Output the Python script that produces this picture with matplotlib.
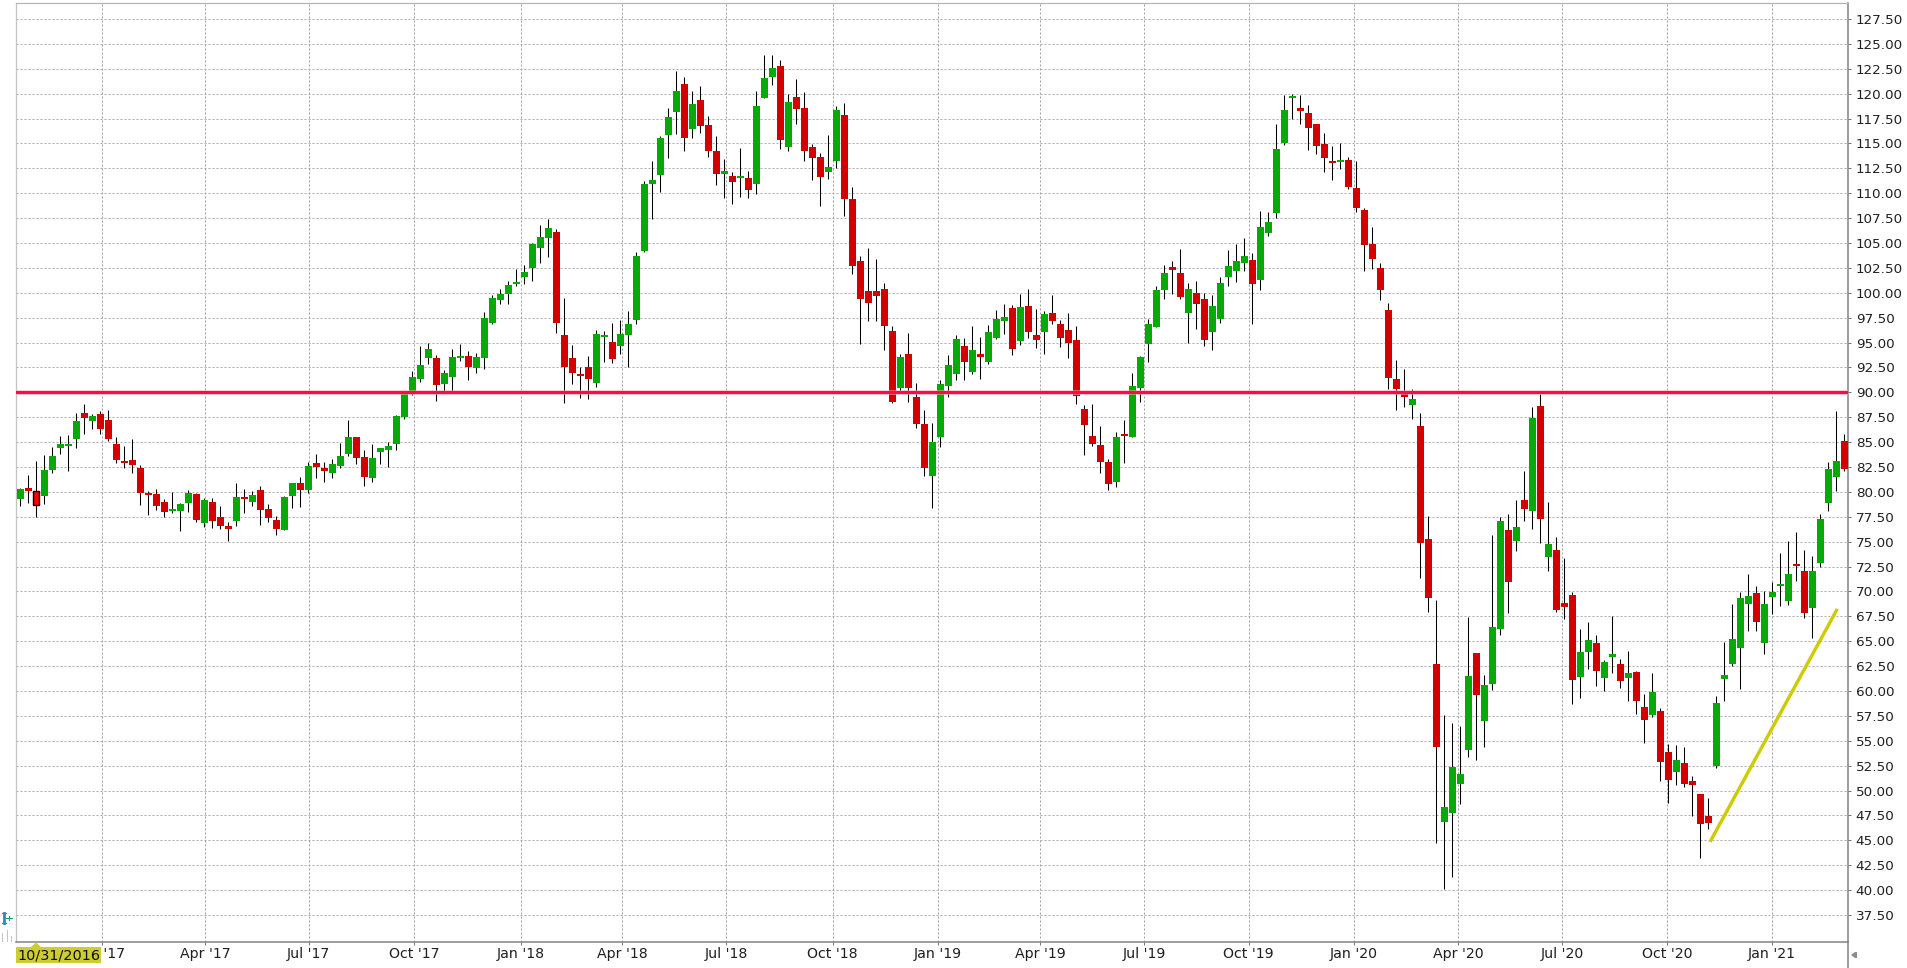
#!/usr/bin/env python3
import matplotlib

matplotlib.use("Agg")
import matplotlib.pyplot as plt
from matplotlib.patches import Polygon, Rectangle

opens = [
    79.33, 80.43, 80.10, 79.63, 82.24, 84.45, 84.65, 85.35, 87.96, 87.16,
    87.86, 87.26, 84.85, 83.14, 83.24, 82.44, 79.93, 79.83, 79.03, 78.13,
    78.13, 78.93, 79.83, 76.92, 79.03, 77.53, 76.62, 77.12, 79.53, 79.03,
    80.23, 78.33, 77.22, 76.22, 79.63, 80.94, 80.23, 82.94, 82.44, 81.94,
    82.64, 83.85, 85.55, 83.54, 81.44, 84.05, 84.25, 84.85, 87.56, 90.00,
    91.37, 93.43, 93.48, 90.87, 91.57, 93.48, 93.68, 92.47, 93.47, 96.99,
    99.30, 99.90, 100.90, 101.61, 102.51, 104.52, 105.52, 106.13, 95.78, 93.47,
    91.86, 92.57, 90.96, 95.58, 95.08, 94.68, 95.78, 97.29, 104.22, 110.95,
    111.85, 115.87, 118.18, 120.99, 116.47, 119.38, 116.87, 114.26, 111.95, 111.75,
    111.55, 111.55, 110.95, 119.58, 121.69, 122.80, 114.66, 119.68, 118.58, 114.66,
    113.66, 112.15, 113.26, 117.88, 109.44, 103.21, 100.20, 100.20, 100.43, 96.12,
    90.40, 93.81, 89.50, 86.79, 81.57, 85.48, 90.60, 91.81, 94.62, 92.01,
    93.81, 93.01, 95.42, 97.12, 98.43, 95.12, 98.63, 95.72, 96.02, 97.93,
    96.82, 96.22, 95.22, 88.29, 85.59, 84.68, 82.98, 80.97, 85.79, 85.48,
    90.40, 94.82, 96.52, 100.33, 102.64, 101.94, 97.93, 100.03, 99.33, 96.02,
    97.32, 101.54, 102.14, 103.04, 103.34, 101.24, 105.96, 107.97, 115.00, 119.52,
    118.61, 118.11, 117.00, 114.90, 113.19, 113.09, 113.39, 110.48, 108.27, 104.95,
    102.54, 98.23, 91.30, 89.89, 88.68, 86.59, 75.25, 62.71, 46.88, 47.77,
    50.68, 54.10, 63.81, 57.00, 60.70, 66.23, 76.19, 75.08, 79.19, 78.09,
    88.63, 73.46, 74.15, 68.86, 69.65, 61.43, 63.92, 64.82, 61.32, 63.43,
    62.71, 61.33, 61.93, 58.42, 57.61, 58.01, 53.90, 51.89, 52.79, 50.98,
    49.68, 47.47, 52.49, 61.23, 62.74, 64.34, 68.76, 69.87, 64.84, 69.46,
    70.57, 69.06, 72.78, 72.08, 68.36, 72.88, 78.91, 81.52, 85.13,
]
closes = [
    80.33, 80.13, 78.66, 82.24, 83.65, 84.85, 84.85, 87.16, 87.46, 87.66,
    86.35, 85.35, 83.24, 82.94, 82.74, 79.93, 79.73, 78.63, 78.03, 78.33,
    78.83, 79.93, 77.22, 79.23, 77.12, 76.62, 76.32, 79.53, 79.33, 79.73,
    78.23, 77.42, 76.32, 79.53, 80.94, 80.23, 82.64, 82.54, 82.14, 82.84,
    83.65, 85.55, 83.44, 81.54, 83.44, 84.45, 84.65, 87.66, 89.87, 91.57,
    92.78, 94.40, 90.77, 91.97, 93.58, 93.68, 92.57, 93.58, 97.49, 99.50,
    99.90, 100.80, 101.10, 102.11, 104.92, 105.62, 106.53, 96.99, 92.57, 91.97,
    91.66, 91.36, 95.88, 95.78, 93.37, 95.88, 96.89, 103.72, 110.95, 111.35,
    115.57, 117.68, 120.29, 115.57, 118.98, 116.77, 114.26, 111.95, 112.25, 111.15,
    111.75, 110.34, 118.78, 121.59, 122.60, 115.37, 119.18, 118.48, 114.26, 113.56,
    111.65, 112.65, 118.38, 109.44, 102.71, 99.40, 99.00, 99.70, 96.62, 89.00,
    93.51, 90.40, 86.79, 82.37, 84.98, 90.80, 92.71, 95.32, 93.01, 94.21,
    93.51, 96.02, 97.32, 97.53, 94.31, 98.53, 96.02, 95.22, 97.83, 97.12,
    95.42, 94.92, 89.60, 86.69, 84.78, 82.98, 80.77, 85.48, 85.59, 90.60,
    93.51, 96.82, 100.33, 101.94, 102.34, 99.53, 100.43, 98.83, 95.22, 98.63,
    100.94, 102.74, 103.24, 103.65, 100.84, 106.56, 107.16, 114.40, 118.41, 119.72,
    118.31, 116.60, 114.70, 113.59, 112.99, 113.39, 110.58, 108.47, 104.85, 103.35,
    100.33, 91.40, 90.30, 89.49, 89.29, 74.87, 69.34, 54.38, 48.36, 52.37,
    51.68, 61.53, 59.60, 60.60, 66.44, 77.09, 70.97, 76.46, 78.26, 87.42,
    77.26, 74.77, 68.13, 68.44, 61.12, 63.92, 65.13, 62.02, 62.91, 63.71,
    61.01, 61.83, 59.02, 57.11, 59.92, 52.89, 51.08, 53.09, 50.68, 50.58,
    46.67, 46.77, 58.82, 61.63, 65.25, 69.36, 69.56, 66.95, 68.76, 69.97,
    70.77, 71.77, 72.58, 67.86, 72.08, 77.30, 82.32, 83.12, 82.32,
]
highs = [
    80.43, 81.74, 83.14, 83.75, 84.55, 85.65, 85.75, 87.96, 88.86, 87.86,
    88.16, 88.26, 85.55, 84.65, 85.35, 82.74, 80.13, 80.33, 79.33, 80.03,
    78.93, 80.23, 79.93, 79.43, 79.43, 78.63, 77.02, 80.94, 80.33, 80.13,
    80.64, 78.83, 77.63, 79.63, 80.94, 81.54, 83.04, 83.85, 83.04, 83.34,
    84.95, 87.26, 85.55, 84.25, 84.85, 84.45, 85.05, 87.76, 89.97, 92.17,
    94.68, 95.00, 93.78, 92.27, 94.38, 94.88, 94.18, 93.98, 98.09, 99.80,
    100.40, 101.20, 102.41, 102.81, 105.02, 106.83, 107.43, 106.43, 99.50, 94.78,
    92.57, 93.67, 96.28, 96.18, 96.99, 97.29, 98.19, 104.12, 111.25, 113.26,
    115.77, 118.58, 122.30, 121.69, 120.29, 120.79, 117.78, 115.77, 113.46, 112.15,
    114.56, 112.25, 120.29, 123.90, 123.90, 123.40, 119.99, 121.49, 120.19, 114.96,
    114.06, 115.87, 118.78, 119.08, 110.65, 103.72, 104.52, 103.41, 100.94, 96.62,
    93.81, 95.92, 90.90, 88.19, 86.89, 91.20, 93.71, 95.72, 95.42, 96.62,
    95.52, 96.72, 98.23, 98.83, 98.73, 99.83, 100.43, 98.33, 98.13, 99.73,
    97.22, 97.93, 96.62, 88.70, 88.80, 86.59, 83.28, 85.99, 87.19, 91.91,
    93.61, 97.32, 100.64, 102.84, 103.24, 104.45, 100.94, 101.14, 100.03, 99.73,
    101.54, 104.25, 104.95, 105.55, 103.95, 108.17, 108.07, 117.00, 119.82, 119.92,
    119.82, 118.91, 117.00, 116.10, 114.70, 115.00, 113.69, 113.19, 108.47, 106.66,
    102.95, 98.93, 93.30, 92.30, 90.30, 87.90, 77.57, 69.14, 57.56, 56.80,
    56.48, 67.44, 63.81, 61.60, 75.67, 77.43, 77.78, 79.19, 82.10, 88.53,
    89.81, 78.99, 75.46, 73.35, 69.93, 66.23, 66.92, 65.64, 63.12, 67.58,
    63.22, 64.02, 62.00, 59.72, 61.83, 58.32, 54.70, 54.60, 54.40, 51.49,
    49.68, 49.28, 59.52, 64.94, 68.76, 69.97, 71.77, 70.57, 70.07, 70.97,
    73.88, 75.02, 75.99, 74.18, 73.58, 77.80, 83.02, 88.14, 85.83,
]
lows = [
    78.63, 78.93, 77.50, 78.83, 81.94, 83.85, 82.14, 84.45, 85.85, 86.35,
    85.85, 85.15, 82.94, 82.44, 81.94, 78.73, 77.73, 78.23, 77.53, 77.93,
    76.12, 78.03, 77.02, 76.52, 76.42, 76.32, 75.02, 76.62, 77.93, 78.63,
    76.72, 77.02, 75.72, 76.22, 78.43, 78.53, 79.93, 81.44, 81.04, 81.44,
    82.44, 83.65, 82.84, 80.64, 81.04, 82.84, 82.54, 84.25, 87.36, 89.76,
    91.07, 92.80, 89.16, 90.17, 90.17, 93.18, 91.27, 91.97, 92.37, 96.90,
    98.90, 98.90, 100.70, 100.90, 101.20, 103.01, 103.62, 95.98, 88.95, 90.86,
    89.45, 89.35, 90.56, 93.07, 92.97, 93.87, 92.57, 96.89, 104.12, 107.43,
    110.14, 113.56, 115.97, 114.26, 115.57, 116.07, 113.66, 110.85, 109.54, 108.94,
    109.64, 109.54, 109.94, 119.58, 120.89, 114.46, 114.26, 116.97, 113.26, 111.35,
    108.74, 111.45, 112.55, 107.73, 101.91, 94.88, 97.19, 97.19, 94.21, 88.90,
    89.90, 89.00, 86.39, 81.57, 78.36, 84.48, 89.50, 91.20, 91.20, 91.81,
    91.30, 92.81, 95.32, 95.82, 93.71, 94.72, 95.42, 94.41, 93.81, 96.82,
    94.52, 93.41, 88.80, 83.68, 84.58, 81.87, 80.17, 80.47, 82.88, 85.48,
    89.00, 93.01, 96.52, 99.33, 99.83, 99.33, 94.92, 96.32, 94.62, 94.21,
    96.92, 100.64, 101.04, 102.24, 96.82, 100.33, 105.66, 107.47, 114.80, 117.50,
    117.00, 114.30, 113.90, 112.09, 111.38, 112.39, 110.38, 108.07, 102.14, 102.44,
    99.23, 90.30, 88.18, 88.48, 87.28, 71.35, 67.93, 44.77, 40.07, 41.34,
    48.67, 53.37, 53.10, 54.38, 60.08, 65.64, 67.82, 74.08, 77.09, 76.26,
    74.87, 72.04, 67.93, 67.23, 58.70, 59.32, 62.22, 60.53, 60.00, 61.81,
    60.29, 59.01, 57.71, 54.80, 57.41, 50.98, 48.77, 50.58, 50.38, 47.47,
    43.25, 46.16, 52.29, 59.02, 62.53, 60.22, 66.05, 66.05, 63.74, 67.76,
    68.56, 68.66, 71.07, 67.36, 65.35, 72.48, 78.10, 80.11, 82.12,
]

# x is the bar number, the quarter ticks fall between bars
date_ticks = [10.24, 23.11, 36.04, 49.24, 62.54, 75.24, 88.24, 101.54, 114.64,
              127.44, 140.49, 153.54, 166.69, 179.69, 192.69, 205.84, 218.94]
date_labels = ["Jan '17", "Apr '17", "Jul '17", "Oct '17", "Jan '18", "Apr '18",
               "Jul '18", "Oct '18", "Jan '19", "Apr '19", "Jul '19", "Oct '19",
               "Jan '20", "Apr '20", "Jul '20", "Oct '20", "Jan '21"]
price_ticks = [37.5 + 2.5 * n for n in range(37)]
selected_bar = 2
resistance = 90.0
trend_x = [211.3, 227.0]
trend_y = [45.0, 68.1]
cursor_date = "10/31/2016"

GREEN = "#04ab04"
RED = "#d40000"
W, H = 1908, 968
PX = 0.72  # one pixel in points at dpi 100

fig = plt.figure(figsize=(W / 100, H / 100), dpi=100)
ax = fig.add_axes([16.5 / W, (H - 942) / H, 1832 / W, 939 / H])
ax.set_xlim(-0.475, 228.5)
ax.set_ylim(34.79, 129.11)

ax.set_axisbelow(True)
ax.grid(True, axis="y", color="#adadad", linewidth=PX, linestyle=(0, (2, 2)))
ax.grid(True, axis="x", color="#a0a0a0", linewidth=PX, linestyle=(0, (2, 2)))

bars = range(len(opens))
ax.vlines(bars, lows, highs, color="black", linewidth=1.05 * PX, zorder=2)
for i in bars:
    color = GREEN if closes[i] >= opens[i] else RED
    bottom = min(opens[i], closes[i])
    height = abs(closes[i] - opens[i])
    if i == selected_bar:
        ax.bar(i, height, bottom=bottom, width=0.75, color="#ff0000",
               edgecolor="black", linewidth=1.4 * PX, zorder=3)
    else:
        ax.bar(i, height, bottom=bottom, width=0.875, color=color, linewidth=0, zorder=3)

ax.axhline(resistance, color="#ff9db5", linewidth=4.6 * PX, alpha=0.7, zorder=4)
ax.axhline(resistance, color="#ff0a46", linewidth=3 * PX, zorder=5)
ax.plot(trend_x, trend_y, color="#cccc00", linewidth=3.4 * PX, zorder=5)

ax.yaxis.tick_right()
ax.set_yticks(price_ticks)
ax.set_yticklabels([f"{p:.2f}" for p in price_ticks])
ax.set_xticks(date_ticks)
ax.set_xticklabels(date_labels)
ax.tick_params(axis="y", length=3 * PX, width=PX, color="#777777", pad=4.2 * PX,
               labelsize=9.7, labelcolor="#202020")
ax.tick_params(axis="x", length=3 * PX, width=PX, color="#777777", pad=2.2 * PX,
               labelsize=10.2, labelcolor="#202020")
ax.spines["top"].set(color="#b4b4b4", linewidth=1.2 * PX)
ax.spines["left"].set(color="#c4c4c4", linewidth=1.3 * PX)
ax.spines["right"].set(color="#808080", linewidth=1.5 * PX)
ax.spines["bottom"].set(color="#808080", linewidth=1.5 * PX)

# furniture outside the plot, in pixels of the whole picture
over = fig.add_axes([0, 0, 1, 1], zorder=10)
over.set_xlim(0, W)
over.set_ylim(H, 0)
over.axis("off")
over.add_patch(Rectangle((16, 947), 85, 16, color="#cccc33", linewidth=0))
over.add_patch(Polygon([(31, 947), (36, 942.5), (41, 947)], color="#cccc33", linewidth=0))
over.text(59, 955.5, cursor_date, ha="center", va="center", fontsize=10.4, color="#101010")
over.plot([1848.5, 1848.5], [942, 968], color="#808080", linewidth=1.5 * PX)
over.add_patch(Polygon([(1851, 955), (1855, 952), (1857, 952), (1857, 958), (1855, 958)],
                       color="#8c8c8c", linewidth=0))
# small handle icon left of the axis
over.plot([4.5, 4.5], [913, 923], color="#3d85b8", linewidth=2.8 * PX)
over.plot([2.5, 6.5], [913, 913], color="#3d85b8", linewidth=1.2 * PX)
over.plot([2.5, 6.5], [923, 923], color="#3d85b8", linewidth=1.2 * PX)
over.plot([6.5, 12], [917.5, 917.5], color="#11a060", linewidth=PX)
over.plot([9.5, 9.5], [915.5, 919.5], color="#11a060", linewidth=PX)
for x, top in [(2.5, 933), (7, 930), (11.5, 936)]:
    over.plot([x, x], [top, 941], color="#c4c4c4", linewidth=PX)

fig.savefig("out.png", dpi=100, facecolor="white")
plt.close(fig)
